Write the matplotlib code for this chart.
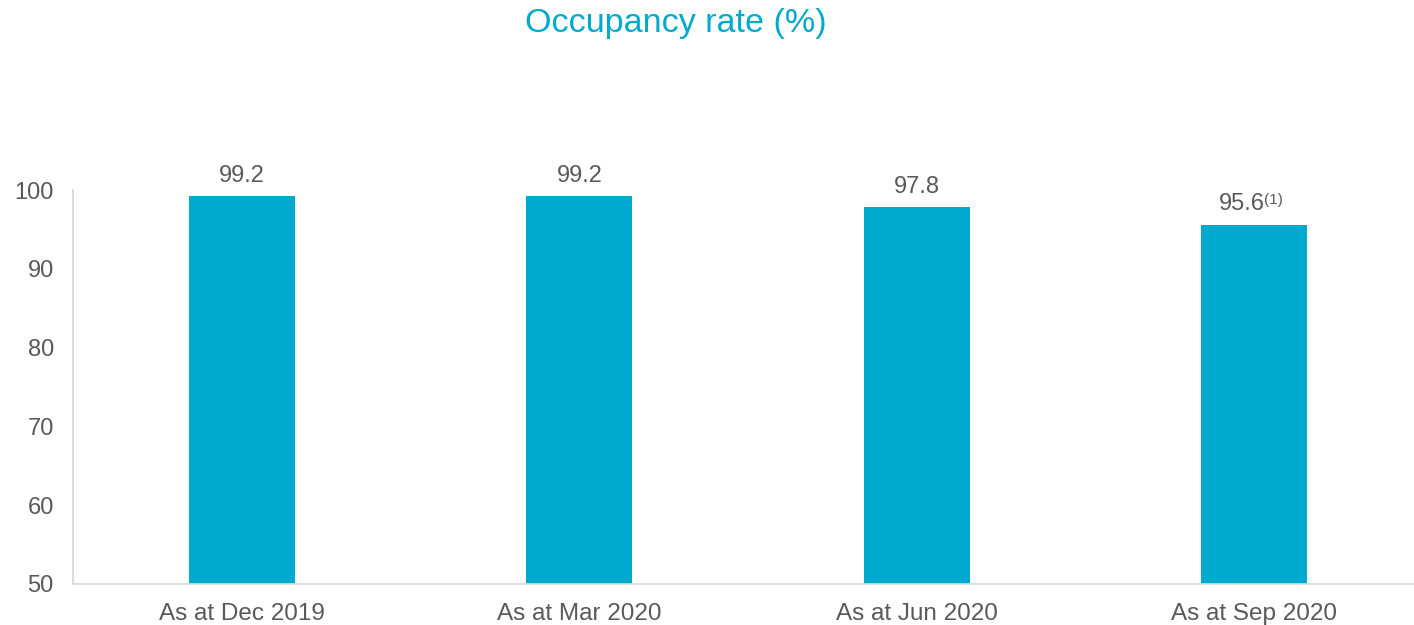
import matplotlib.pyplot as plt

plt.rcParams['font.family'] = ['Liberation Sans', 'DejaVu Sans']

# data
categories = ['As at Dec 2019', 'As at Mar 2020', 'As at Jun 2020', 'As at Sep 2020']
occupancy = [99.2, 99.2, 97.8, 95.6]
footnotes = ['', '', '', '(1)']

bar_color = '#00A9CE'
text_grey = '#595959'

fig = plt.figure(figsize=(14.14, 6.25), dpi=100)
ax = fig.add_axes([0.0518, 0.0656, 0.9547, 0.6304])

x = range(len(categories))
bars = ax.bar(x, occupancy, width=0.314, color=bar_color, zorder=2)

ax.set_xlim(-0.5, 3.5)
ax.set_ylim(50, 100)
ax.set_yticks([50, 60, 70, 80, 90, 100])
ax.set_xticks(list(x))
ax.set_xticklabels(categories)
ax.tick_params(axis='both', length=0, labelsize=17, labelcolor=text_grey)
ax.tick_params(axis='x', labelsize=17.5, pad=14)
ax.tick_params(axis='y', pad=14)

for side in ['top', 'right']:
    ax.spines[side].set_visible(False)
for side in ['left', 'bottom']:
    ax.spines[side].set_color('#D9D9D9')
    ax.spines[side].set_linewidth(1.3)

# value labels, with a superscript footnote where needed
for i, (v, note) in enumerate(zip(occupancy, footnotes)):
    shift = -9 if note else 0
    t = ax.annotate(f'{v:.1f}', xy=(i, v), xytext=(shift, 7), textcoords='offset points',
                    ha='center', va='bottom', fontsize=17, color=text_grey,
                    annotation_clip=False)
    if note:
        ax.annotate(note, xy=(1, 1), xycoords=t, xytext=(-0.5, 0), textcoords='offset points',
                    ha='left', va='top', fontsize=11, color=text_grey)

fig.text(0.478, 0.962, 'Occupancy rate (%)', ha='center', va='center',
         fontsize=24.5, color=bar_color)

fig.savefig('out.png', dpi=100)
